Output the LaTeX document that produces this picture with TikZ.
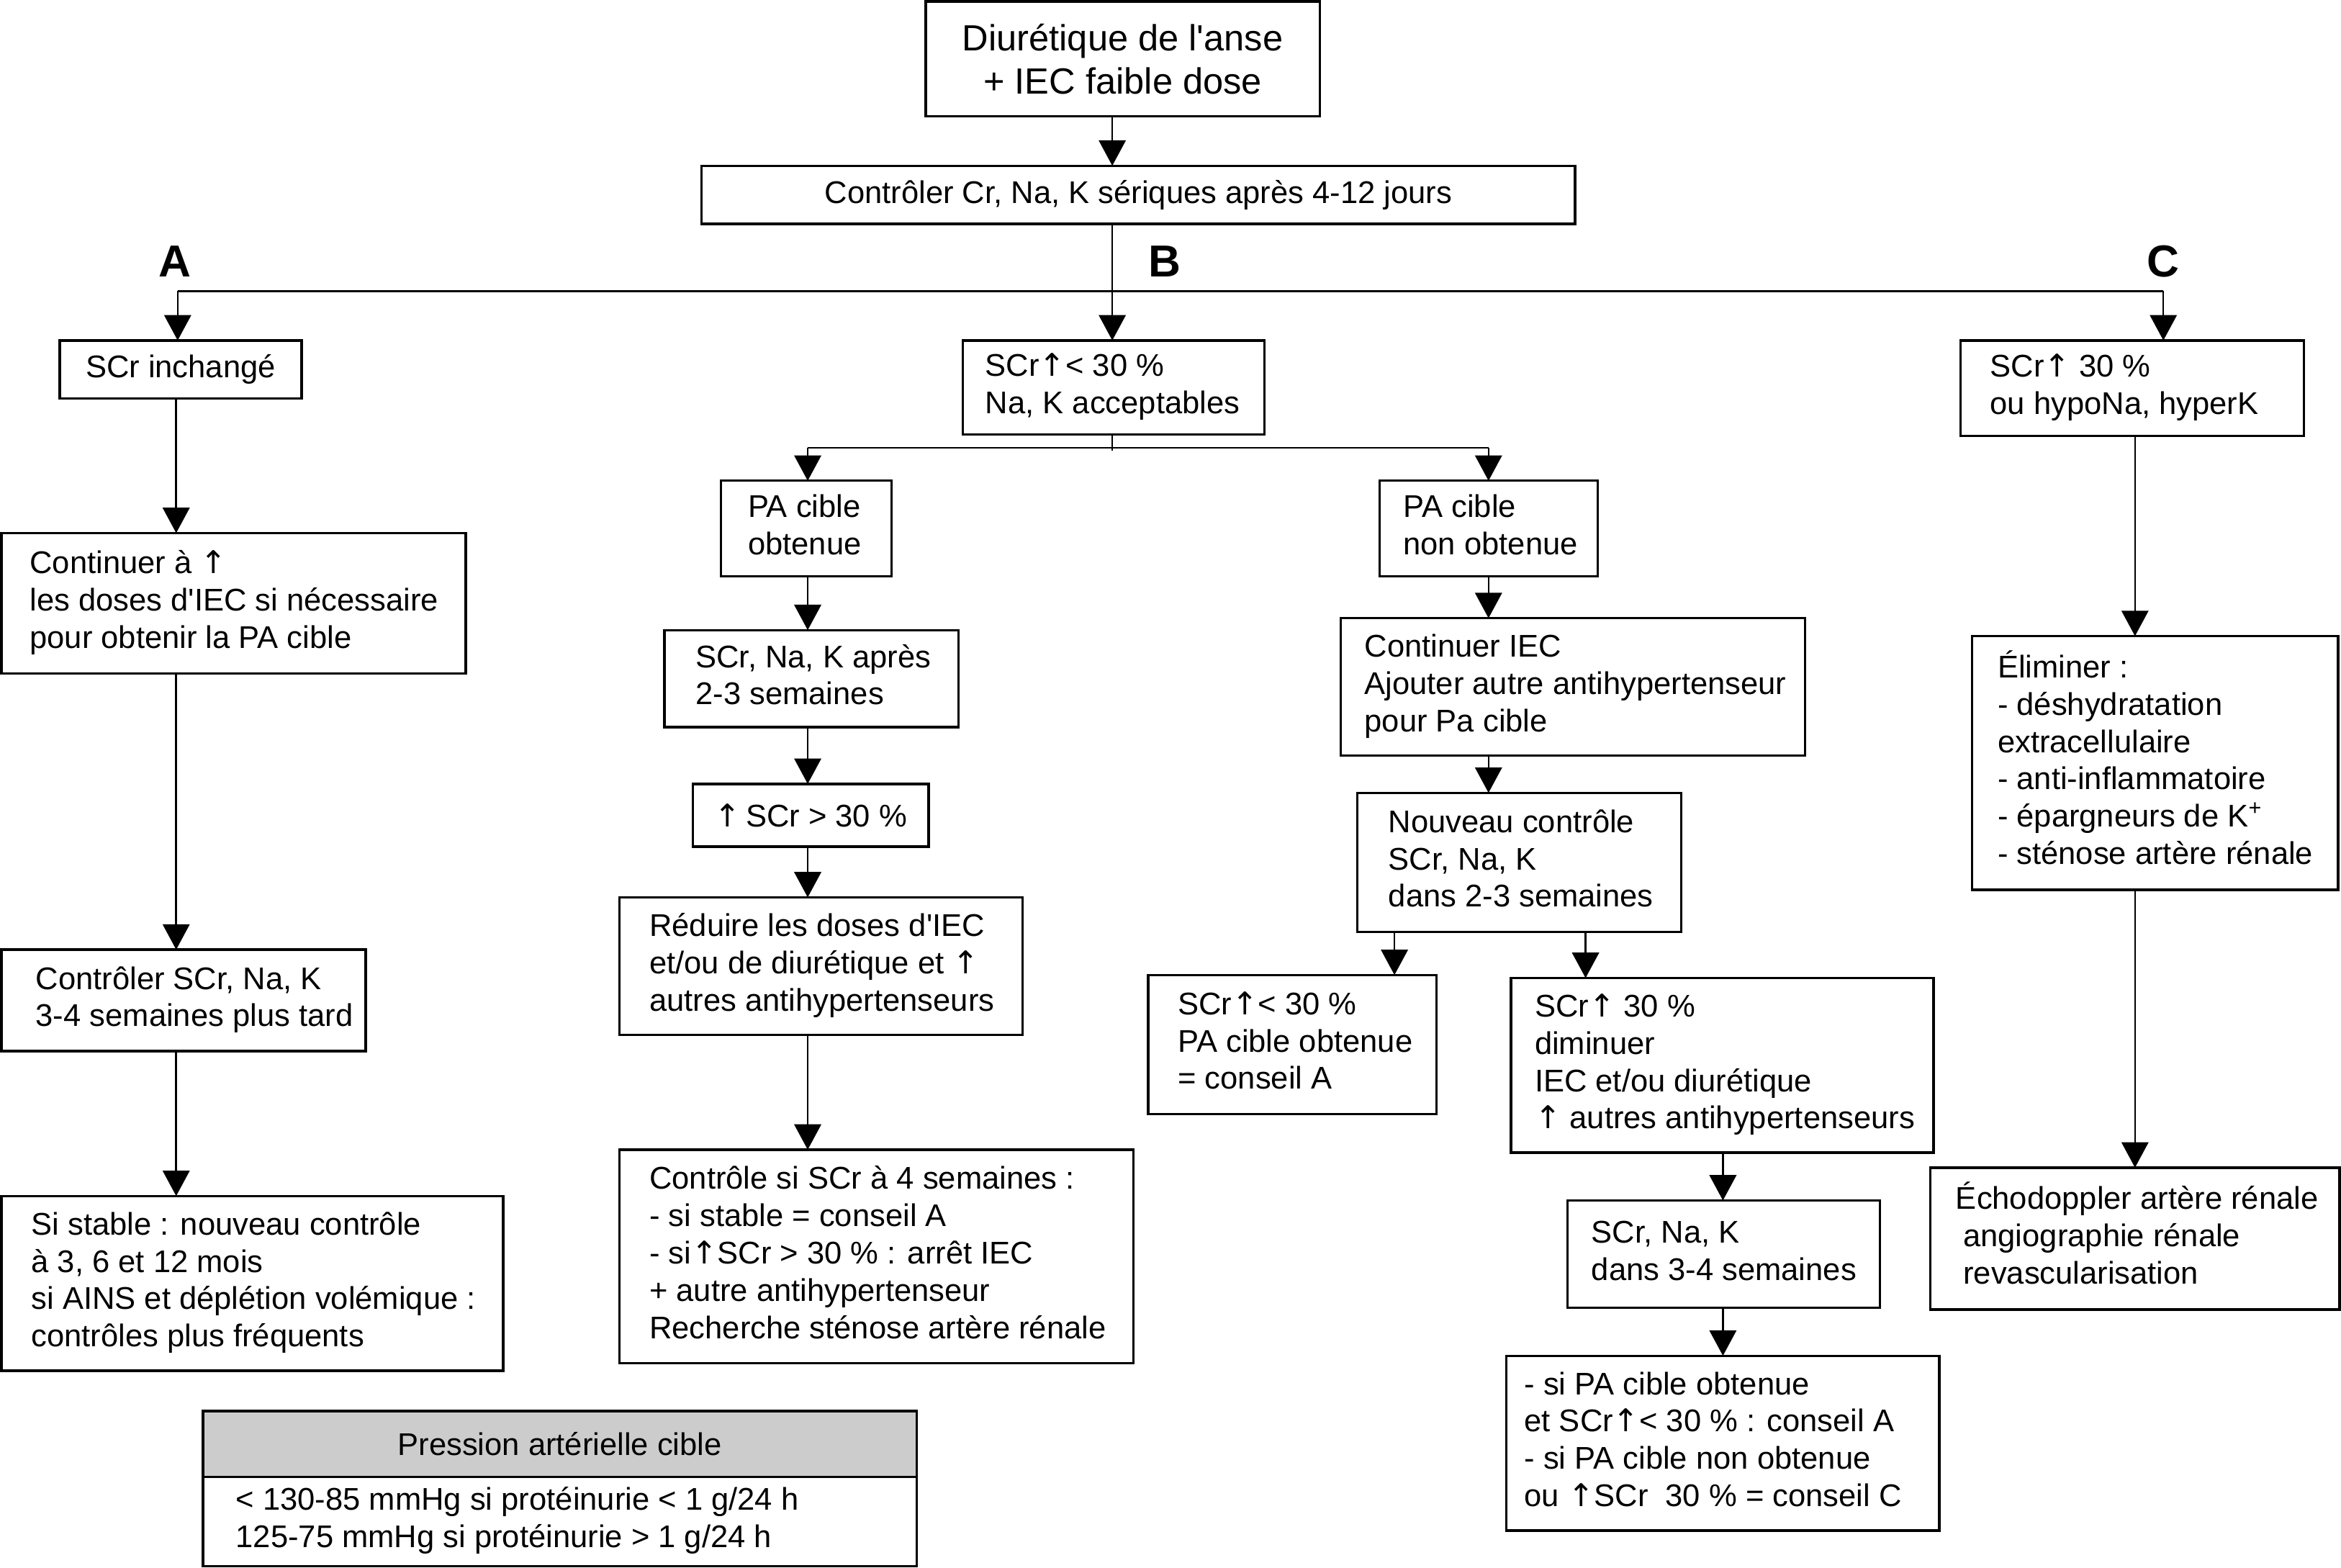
\documentclass[tikz,border=0pt]{standalone}
\usepackage{fontspec}
\setmainfont{Liberation Sans}
\newfontfamily\arrfont{DejaVu Sans}
\usetikzlibrary{arrows.meta}
\newcommand\up{{\arrfont\char"2191}}
\newcommand\bxt[2]{\makebox[#1][l]{\begin{tabular}{@{}l@{}}#2\end{tabular}}}
\newcommand\q{\textquotesingle}
\begin{document}
\begin{tikzpicture}[x=0.5pt,y=-0.5pt,
  every node/.style={font=\fontsize{10.5}{12.5}\selectfont},
  bx/.style={draw, line width=0.8pt, anchor=north west, inner ysep=0pt, outer sep=0pt},
  cbx/.style={bx, inner xsep=0pt, align=center},
  arr/.style={line width=0.6pt, -{Triangle[width=9pt,length=8.5pt]}},
  ln/.style={line width=0.6pt},
  lbl/.style={font=\fontsize{15}{18}\selectfont\bfseries}]
\useasboundingbox (0,0) rectangle (1568,1050);

% top
\node[cbx, minimum width=132pt, minimum height=38.5pt, font=\fontsize{12.2}{14.5}\selectfont] (top) at (620,1) {Diurétique de l\q anse\\+ IEC faible dose};
\node[cbx, minimum width=292.5pt, minimum height=19.5pt] (ctrl) at (470,111) {Contrôler Cr, Na, K sériques après 4-12 jours};

% labels
\node[lbl] (LA) at (117,175) {A};
\node[lbl] (LB) at (780,175) {B};
\node[lbl] (LC) at (1449,175) {C};

% column A
\node[cbx, minimum width=81pt, minimum height=19.5pt] (A1) at (40,228) {SCr inchangé};
\node[bx, inner xsep=9.5pt, minimum height=47pt] (A2) at (1,357) {\bxt{136.5pt}{Continuer à \up\\les doses d\q IEC si nécessaire\\pour obtenir la PA cible}};
\node[bx, inner xsep=11.5pt, minimum height=34pt] (A3) at (1,636) {\bxt{99pt}{Contrôler SCr, Na, K\\3-4 semaines plus tard}};
\node[bx, inner xsep=10pt, minimum height=58.5pt] (A4) at (1,801) {\bxt{148pt}{Si stable : nouveau contrôle\\à 3, 6 et 12 mois\\si AINS et déplétion volémique :\\contrôles plus fréquents}};

% legend
\node[cbx, fill=black!20, minimum width=239pt, minimum height=22pt] (LH) at (136,945) {Pression artérielle cible};
\node[bx, inner xsep=11pt, minimum height=30pt] (LBd) at (136,989) {\bxt{217pt}{< 130-85 mmHg si protéinurie < 1 g/24 h\\125-75 mmHg si protéinurie > 1 g/24 h}};

% column B
\node[bx, inner xsep=7.5pt, minimum height=31.5pt] (B1) at (645,228) {\bxt{86pt}{SCr\up< 30 \%\\Na, K acceptables}};
\node[bx, inner xsep=9pt, minimum height=32pt] (B2a) at (483,322) {\bxt{39pt}{PA cible\\obtenue}};
\node[bx, inner xsep=8pt, minimum height=32pt] (B2b) at (924,322) {\bxt{57pt}{PA cible\\non obtenue}};
\node[bx, inner xsep=10.5pt, minimum height=32.5pt] (B3a) at (445,422) {\bxt{77.5pt}{SCr, Na, K après\\2-3 semaines}};
\node[cbx, minimum width=79pt, minimum height=21pt] (B4a) at (464,525) {\up\,SCr > 30 \%};
\node[bx, inner xsep=10pt, minimum height=46pt] (B5a) at (415,601) {\bxt{115pt}{Réduire les doses d\q IEC\\et/ou de diurétique et \up\\autres antihypertenseurs}};
\node[bx, inner xsep=10pt, minimum height=71.5pt] (B6a) at (415,770) {\bxt{152pt}{Contrôle si SCr à 4 semaines :\\- si stable = conseil A\\- si\up SCr > 30 \% : arrêt IEC\\+ autre antihypertenseur\\Recherche sténose artère rénale}};
\node[bx, inner xsep=8pt, minimum height=46pt] (B3b) at (898,414) {\bxt{139.5pt}{Continuer IEC\\Ajouter autre antihypertenseur\\pour Pa cible}};
\node[bx, inner xsep=10.5pt, minimum height=46.5pt] (B4b) at (909,531) {\bxt{87.5pt}{Nouveau contrôle\\SCr, Na, K\\dans 2-3 semaines}};
\node[bx, inner xsep=10pt, minimum height=46.5pt] (B5b1) at (769,653) {\bxt{76.5pt}{SCr\up< 30 \%\\PA cible obtenue\\= conseil A}};
\node[bx, inner xsep=8pt, minimum height=58.5pt] (B5b2) at (1012,655) {\bxt{125.5pt}{SCr\up\ 30 \%\\diminuer\\IEC et/ou diurétique\\\up\ autres antihypertenseurs}};
\node[bx, inner xsep=8pt, minimum height=36pt] (B6b) at (1050,804) {\bxt{88.5pt}{SCr, Na, K\\dans 3-4 semaines}};
\node[bx, inner xsep=6pt, minimum height=58.5pt] (B7b) at (1009,908) {\bxt{133pt}{- si PA cible obtenue\\et SCr\up< 30 \% : conseil A\\- si PA cible non obtenue\\ou \up SCr\ \ 30 \% = conseil C}};

% column C
\node[bx, inner xsep=10pt, minimum height=32pt] (C1) at (1313,228) {\bxt{95pt}{SCr\up\ 30 \%\\ou hypoNa, hyperK}};
\node[bx, inner xsep=8.5pt, minimum height=85pt] (C2) at (1321,426) {\bxt{105.5pt}{Éliminer :\\- déshydratation\\extracellulaire\\- anti-inflammatoire\\- épargneurs de K\textsuperscript{+}\\- sténose artère rénale}};
\node[bx, inner xsep=8.5pt, minimum height=47.5pt] (C3) at (1293,782) {\bxt{120pt}{Échodoppler artère rénale\\\hspace{2.5pt}angiographie rénale\\\hspace{2.5pt}revascularisation}};

% helper coordinates
\coordinate (kb) at (745,0);
\coordinate (barL) at (119,195);
\coordinate (barR) at (1449,195);
\coordinate (brL) at (541,300);
\coordinate (brR) at (997,300);
\coordinate (k1) at (934,0);
\coordinate (k2) at (1062,0);
\coordinate (k3) at (1154,0);
\coordinate (ka) at (118,0);
\coordinate (kc) at (1430,0);

% connectors
\draw[arr] (top.south -| kb) -- (ctrl.north -| kb);
\draw[arr] (ctrl.south -| kb) -- (B1.north -| kb);
\draw[line width=0.8pt] (barL) -- (barR);
\draw[arr] (barL) -- (barL |- A1.north);
\draw[arr] (barR) -- (barR |- C1.north);

\draw[ln] (B1.south -| kb) -- ++(0,11);
\draw[ln] (brL) -- (brR);
\draw[arr] (brL) -- (brL |- B2a.north);
\draw[arr] (brR) -- (brR |- B2b.north);
\draw[arr] (B2a.south -| brL) -- (B3a.north -| brL);
\draw[arr] (B3a.south -| brL) -- (B4a.north -| brL);
\draw[arr] (B4a.south -| brL) -- (B5a.north -| brL);
\draw[arr] (B5a.south -| brL) -- (B6a.north -| brL);
\draw[arr] (B2b.south -| brR) -- (B3b.north -| brR);
\draw[arr] (B3b.south -| brR) -- (B4b.north -| brR);
\draw[arr] (B4b.south -| k1) -- (B5b1.north -| k1);
\draw[arr] (B4b.south -| k2) -- (B5b2.north -| k2);
\draw[arr] (B5b2.south -| k3) -- (B6b.north -| k3);
\draw[arr] (B6b.south -| k3) -- (B7b.north -| k3);

\draw[arr] (A1.south -| ka) -- (A2.north -| ka);
\draw[arr] (A2.south -| ka) -- (A3.north -| ka);
\draw[arr] (A3.south -| ka) -- (A4.north -| ka);

\draw[arr] (C1.south -| kc) -- (C2.north -| kc);
\draw[arr] (C2.south -| kc) -- (C3.north -| kc);
\end{tikzpicture}
\end{document}
